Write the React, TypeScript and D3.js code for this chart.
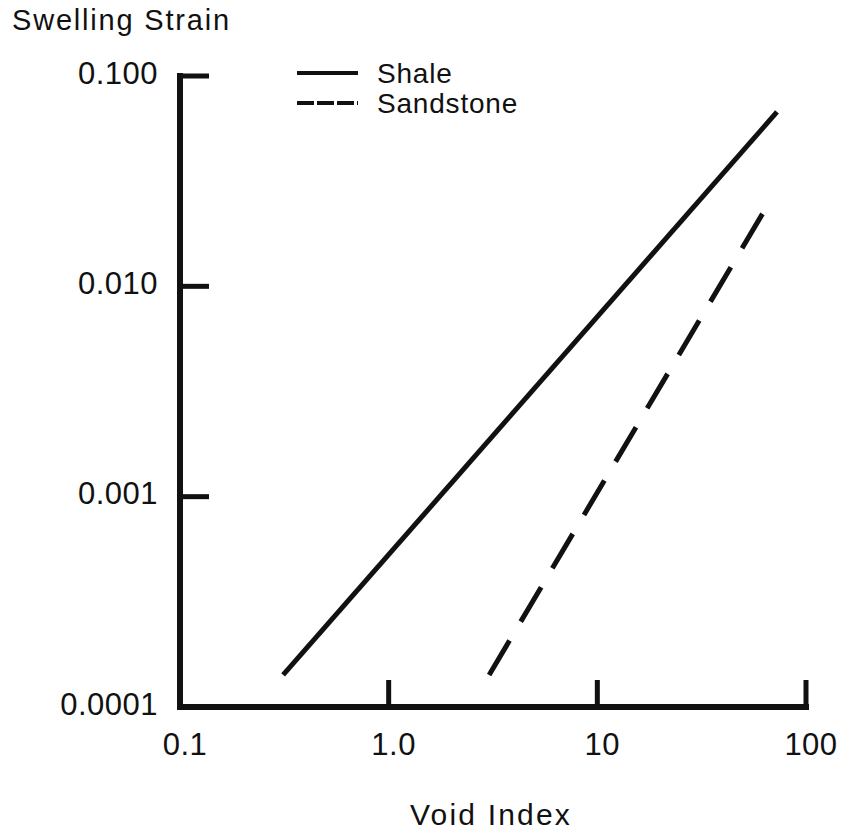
import React from "react";
import * as d3 from "d3";

// values (log-log)
const xTicks = [0.1, 1, 10, 100];
const xTickLabels = ["0.1", "1.0", "10", "100"];
const yTicks = [0.1, 0.01, 0.001, 0.0001];
const yTickLabels = ["0.100", "0.010", "0.001", "0.0001"];

const shaleVoid = [0.312, 72.6];
const shaleStrain = [0.000142, 0.0675];
const sandVoid = [3.03, 63.5];
const sandStrain = [0.000142, 0.0231];

const seriesNames = ["Shale", "Sandstone"];

const W = 842;
const H = 831;
const font = "'Liberation Sans', Arial, sans-serif";
const ink = "#111";

export default function App() {
  const x = d3.scaleLog().domain([0.1, 100]).range([180, 806]);
  const y = d3.scaleLog().domain([0.0001, 0.1]).range([707, 76]);

  const line = d3
    .line<[number, number]>()
    .x(d => x(d[0]))
    .y(d => y(d[1]));

  const shale = shaleVoid.map((v, i) => [v, shaleStrain[i]] as [number, number]);
  const sand = sandVoid.map((v, i) => [v, sandStrain[i]] as [number, number]);

  const x0 = x(0.1);
  const y0 = y(0.0001);

  return (
    <svg
      width={W}
      height={H}
      style={{ position: "absolute", left: 0, top: 0, background: "#fff" }}
      fontFamily={font}
    >
      {/* axis title y */}
      <text x={12} y={30} fontSize={29} letterSpacing={1.8} fill={ink}>
        Swelling Strain
      </text>

      {/* axes */}
      <path
        d={`M${x0},${y(0.1)} V${y0} H${x(100)}`}
        fill="none"
        stroke={ink}
        strokeWidth={6}
        strokeLinejoin="miter"
        strokeLinecap="square"
      />
      {yTicks.map((t, i) => (
        <g key={"y" + t}>
          {t !== 0.0001 && (
            <line x1={x0} x2={x0 + 29} y1={y(t)} y2={y(t)} stroke={ink} strokeWidth={5} />
          )}
          <text
            x={158}
            y={y(t) - 3}
            textAnchor="end"
            dominantBaseline="central"
            fontSize={31}
            letterSpacing={0.5}
            fill={ink}
          >
            {yTickLabels[i]}
          </text>
        </g>
      ))}
      {xTicks.map((t, i) => (
        <g key={"x" + t}>
          {t !== 0.1 && (
            <line x1={x(t)} x2={x(t)} y1={y0} y2={y0 - 27} stroke={ink} strokeWidth={5} />
          )}
          <text x={x(t) + 5} y={755} textAnchor="middle" fontSize={31} letterSpacing={0.5} fill={ink}>
            {xTickLabels[i]}
          </text>
        </g>
      ))}

      {/* axis title x */}
      <text x={491} y={825} textAnchor="middle" fontSize={30} letterSpacing={2.2} fill={ink}>
        Void Index
      </text>

      {/* data */}
      <path d={line(shale) || ""} fill="none" stroke={ink} strokeWidth={5} />
      <path
        d={line(sand) || ""}
        fill="none"
        stroke={ink}
        strokeWidth={5}
        strokeDasharray="40 22"
      />

      {/* legend */}
      {seriesNames.map((name, i) => (
        <g key={name} transform={`translate(297, ${73 + i * 30})`}>
          <line
            x1={0}
            x2={61}
            y1={0}
            y2={0}
            stroke={ink}
            strokeWidth={4}
            strokeDasharray={i === 1 ? "17 3" : undefined}
          />
          <text x={80} y={0} dominantBaseline="central" fontSize={28} letterSpacing={0.8} fill={ink}>
            {name}
          </text>
        </g>
      ))}
    </svg>
  );
}
